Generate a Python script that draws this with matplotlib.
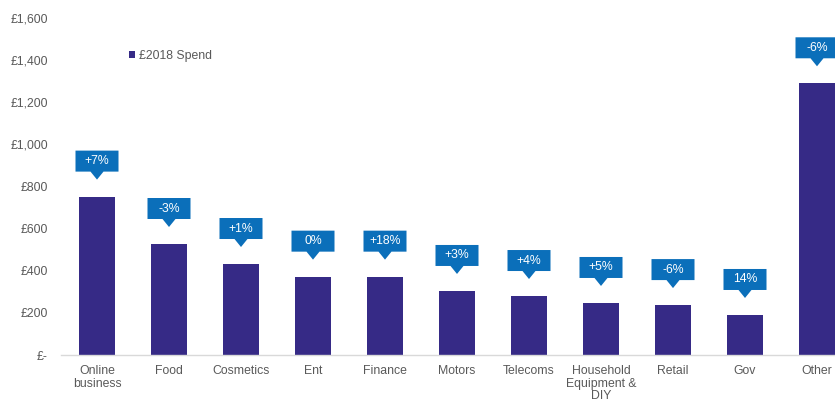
import matplotlib.pyplot as plt
import matplotlib.transforms as mtransforms
from matplotlib.patches import Polygon, Patch

plt.rcParams['font.family'] = ['Liberation Sans', 'DejaVu Sans']

# spend per sector, 2018 (GBP)
categories = ["Online\nbusiness", "Food", "Cosmetics", "Ent", "Finance", "Motors",
              "Telecoms", "Household\nEquipment &\nDIY", "Retail", "Gov", "Other"]
spend_2018 = [752, 527, 432, 372, 372, 304, 280, 247, 237, 190, 1290]
change_labels = ["+7%", "-3%", "+1%", "0%", "+18%", "+3%", "+4%", "+5%", "-6%", "14%", "-6%"]
y_ticks = [0, 200, 400, 600, 800, 1000, 1200, 1400, 1600]
y_tick_labels = ["£-", "£200", "£400", "£600", "£800", "£1,000", "£1,200", "£1,400", "£1,600"]

bar_color = "#362a86"
callout_color = "#0b6fba"
text_color = "#595959"
fs = 8.8

W, H = 835, 399
fig = plt.figure(figsize=(W / 100, H / 100), dpi=100)
# axes runs past the right edge, so the last slot is partly cut off
ax = fig.add_axes([61 / W, (H - 355) / H, (11 * 72) / W, (355 - 18) / H])

x = list(range(len(categories)))
ax.bar(x, spend_2018, width=0.49, color=bar_color, zorder=2)
ax.set_xlim(-0.5, len(categories) - 0.5)
ax.set_ylim(0, 1600)

ax.set_yticks(y_ticks)
ax.set_yticklabels(y_tick_labels)
ax.set_xticks(x)
ax.set_xticklabels(categories, linespacing=1.03)
ax.tick_params(axis="both", length=0, colors=text_color, labelsize=fs)
ax.tick_params(axis="y", pad=9.5)
ax.tick_params(axis="x", pad=7.5)

for side in ("top", "right", "left"):
    ax.spines[side].set_visible(False)
ax.spines["bottom"].set_color("#d9d9d9")
ax.spines["bottom"].set_linewidth(1.0)

# callout boxes with a downward pointer, sized in inches above each bar
bw, b0, b1, tip, pw = 0.43, 0.25, 0.46, 0.17, 0.065
for xi, v, lab in zip(x, spend_2018, change_labels):
    tr = fig.dpi_scale_trans + mtransforms.ScaledTranslation(xi, v, ax.transData)
    shape = [(-bw / 2, b0), (-pw, b0), (0, tip), (pw, b0), (bw / 2, b0),
             (bw / 2, b1), (-bw / 2, b1)]
    ax.add_patch(Polygon(shape, closed=True, facecolor=callout_color,
                         edgecolor="none", transform=tr, clip_on=False, zorder=3))
    ax.text(0, (b0 + b1) / 2, lab, transform=tr, ha="center", va="center",
            color="white", fontsize=fs, zorder=4)

fig.legend(handles=[Patch(facecolor=bar_color, label="£2018 Spend")],
           loc="center left", bbox_to_anchor=(129 / W, 1 - 56 / H),
           frameon=False, handlelength=0.5, handleheight=0.5,
           handletextpad=0.3, borderpad=0, borderaxespad=0,
           fontsize=fs, labelcolor=text_color)

fig.savefig("out.png", dpi=100)
